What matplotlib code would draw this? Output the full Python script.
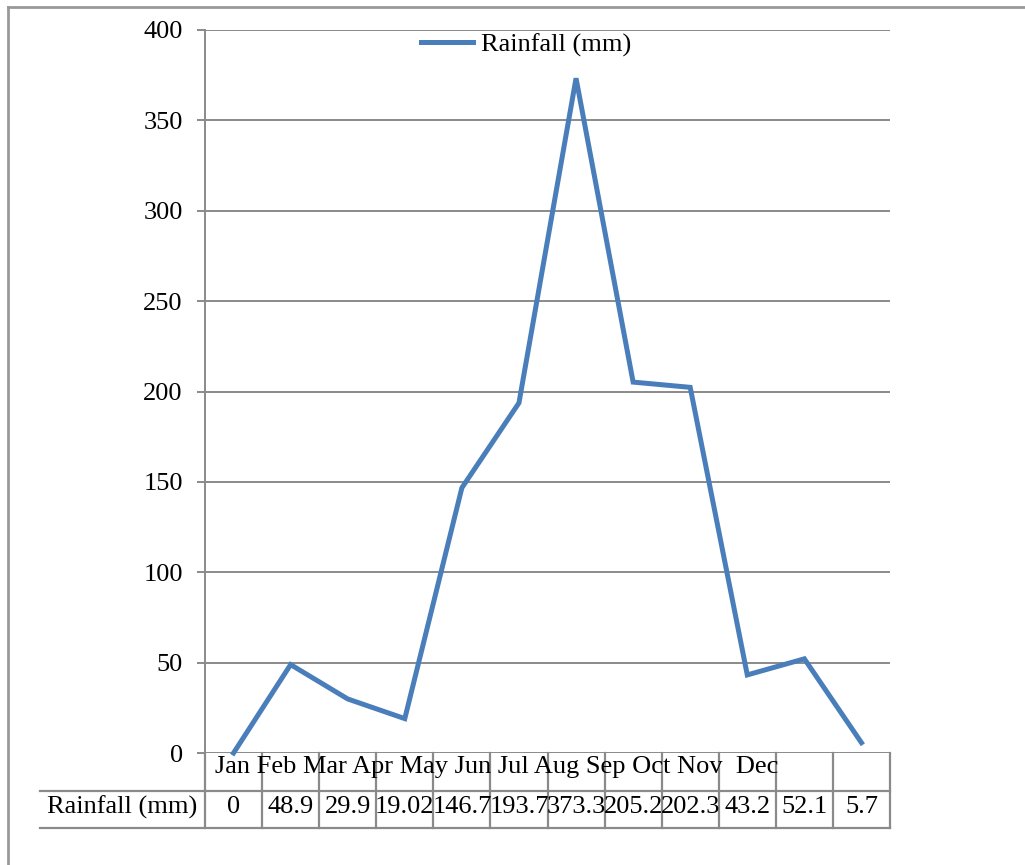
import numpy as np
import matplotlib
matplotlib.use('Agg')
import matplotlib.pyplot as plt
from matplotlib.lines import Line2D
from matplotlib.transforms import blended_transform_factory

# data
months = ['Jan', 'Feb', 'Mar', 'Apr', 'May', 'Jun', 'Jul', 'Aug', 'Sep', 'Oct', 'Nov', 'Dec']
rain_labels = ['0', '48.9', '29.9', '19.02', '146.7', '193.7', '373.3', '205.2', '202.3', '43.2', '52.1', '5.7']
rain = [0, 48.9, 29.9, 19.02, 146.7, 193.7, 373.3, 205.2, 202.3, 43.2, 52.1, 5.7]
series_name = 'Rainfall (mm)'
yticks = [0, 50, 100, 150, 200, 250, 300, 350, 400]

W, H = 1025, 865
FS = 19
plt.rcParams['font.family'] = ['Liberation Serif', 'DejaVu Serif']
plt.rcParams['font.size'] = FS

blue = '#4a7ebb'
grey = '#8a8a8a'

fig = plt.figure(figsize=(W / 100, H / 100), dpi=100)
ax = fig.add_axes([205 / W, 1 - 753 / H, 685 / W, 723 / H])

x = np.arange(len(months))
ax.plot(x, rain, color=blue, lw=3.6, label=series_name, clip_on=False,
        solid_joinstyle='miter')
ax.set_xlim(-0.5, len(months) - 0.5)
ax.set_ylim(0, 400)
ax.set_yticks(yticks)
ax.set_xticks([])
ax.grid(axis='y', color=grey, lw=1.4)
ax.set_axisbelow(True)
for s in ['top', 'right', 'bottom']:
    ax.spines[s].set_visible(False)
ax.spines['left'].set_color(grey)
ax.spines['left'].set_linewidth(1.4)
ax.tick_params(axis='y', length=6, width=1.4, color=grey, pad=10, labelsize=FS)

leg = ax.legend(loc='center', bbox_to_anchor=(526 / W, 1 - 45 / H),
                bbox_transform=fig.transFigure, frameon=False, fontsize=FS,
                handlelength=1.95, handletextpad=0.3)

# data table below the axes
tr = blended_transform_factory(ax.transData, ax.transAxes)
rh = 37.5 / 723  # row height in axes units
lw_t = 1.6
for k in range(len(months) + 1):
    ax.add_line(Line2D([k - 0.5, k - 0.5], [0, -2 * rh], transform=tr,
                       color=grey, lw=lw_t, clip_on=False))
left_x = (40 - 205) / 57.08 - 0.5
for yy in [-rh, -2 * rh]:
    ax.add_line(Line2D([left_x, len(months) - 0.5], [yy, yy], transform=tr,
                       color=grey, lw=lw_t, clip_on=False))

header = ' '.join(months[:-1]) + '  ' + months[-1]
ax.text(-0.33, -14 / 723, header, transform=tr, ha='left',
        va='center', fontsize=FS)
ax.text((left_x - 0.5) / 2, -54 / 723, series_name, transform=tr,
        ha='center', va='center', fontsize=FS)
for i, lab in enumerate(rain_labels):
    ax.text(i, -54 / 723, lab, transform=tr, ha='center', va='center',
            fontsize=FS)

# outer frame
fig.add_artist(Line2D([8 / W, 8 / W], [0, 1 - 7 / H], color='#999999', lw=2))
fig.add_artist(Line2D([8 / W, 1], [1 - 7 / H, 1 - 7 / H], color='#999999', lw=2))

fig.savefig('out.png', dpi=100)
